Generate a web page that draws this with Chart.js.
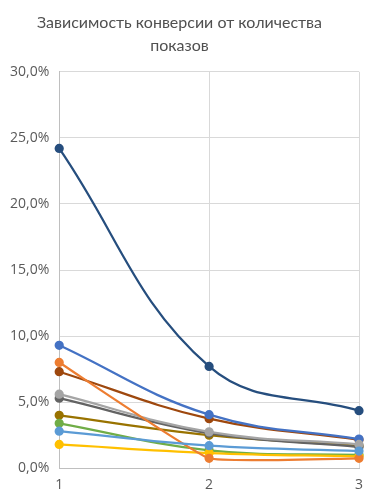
<!DOCTYPE html>
<html>
<head>
<meta charset="utf-8">
<script src="https://cdn.jsdelivr.net/npm/chart.js@4"></script>
<style>
    html, body { margin: 0; padding: 0; background: #fff; }
    #wrap { width: 380px; height: 501px; }
</style>
</head>
<body>
<div id="wrap"><canvas id="conv-chart"></canvas></div>
<script>
    "use strict";

    const shows = ['1', '2', '3'];
    const yTicks = [0, 5, 10, 15, 20, 25, 30];

    const s1 = [2.8, 1.7, 1.3];
    const s2 = [8.0, 0.75, 0.75];
    const s3 = [5.6, 2.75, 1.8];
    const s4 = [1.8, 1.15, 0.9];
    const s5 = [9.3, 4.05, 2.2];
    const s6 = [3.4, 1.35, 1.0];
    const s7 = [24.2, 7.7, 4.35];
    const s8 = [7.3, 3.75, 2.15];
    const s9 = [5.3, 2.65, 1.6];
    const s10 = [4.0, 2.5, 1.7];

    const palette = ['#5B9BD5', '#ED7D31', '#A5A5A5', '#FFC000', '#4472C4',
                     '#70AD47', '#264E7E', '#9E480E', '#636363', '#997300'];
    const series = [s1, s2, s3, s4, s5, s6, s7, s8, s9, s10];

    let ctx = document.getElementById('conv-chart');
    new Chart(ctx, {
        type: 'line',
        data: {
            labels: shows,
            datasets: series.map(function(vals, i) {
                return {
                    label: 'Ряд ' + (i + 1),
                    data: vals,
                    borderColor: palette[i],
                    backgroundColor: palette[i],
                    pointBackgroundColor: palette[i],
                    pointBorderColor: palette[i],
                    pointRadius: 3.5,
                    borderWidth: 2.25,
                    // orange drops almost straight to 2
                    tension: vals === s2 ? 0.1 : 0.4,
                    fill: false
                };
            })
        },
        options: {
            responsive: true,
            maintainAspectRatio: false,
            animation: false,
            layout: {
                padding: { left: 0, right: 21, top: 0, bottom: 0 }
            },
            plugins: {
                legend: { display: false },
                tooltip: { enabled: false },
                title: {
                    display: true,
                    text: ['Зависимость конверсии от количества', 'показов'],
                    color: '#505050',
                    font: { family: 'Lato', size: 16, weight: 'normal', lineHeight: 1.4 },
                    padding: { top: 12, bottom: 15 }
                }
            },
            scales: {
                x: {
                    offset: false,
                    grid: { color: '#d9d9d9', drawTicks: false },
                    border: { color: '#bfbfbf' },
                    ticks: {
                        color: '#595959',
                        padding: 8,
                        font: { family: 'Open Sans', size: 14 }
                    }
                },
                y: {
                    min: 0,
                    max: 30,
                    afterBuildTicks: function(axis) {
                        axis.ticks = yTicks.map(function(v) { return { value: v }; });
                    },
                    grid: { color: '#d9d9d9', drawTicks: false },
                    border: { color: '#bfbfbf' },
                    ticks: {
                        color: '#595959',
                        padding: 10,
                        font: { family: 'Open Sans', size: 14 },
                        callback: function(v) { return v.toFixed(1).replace('.', ',') + '%'; }
                    }
                }
            }
        }
    });
</script>
</body>
</html>
